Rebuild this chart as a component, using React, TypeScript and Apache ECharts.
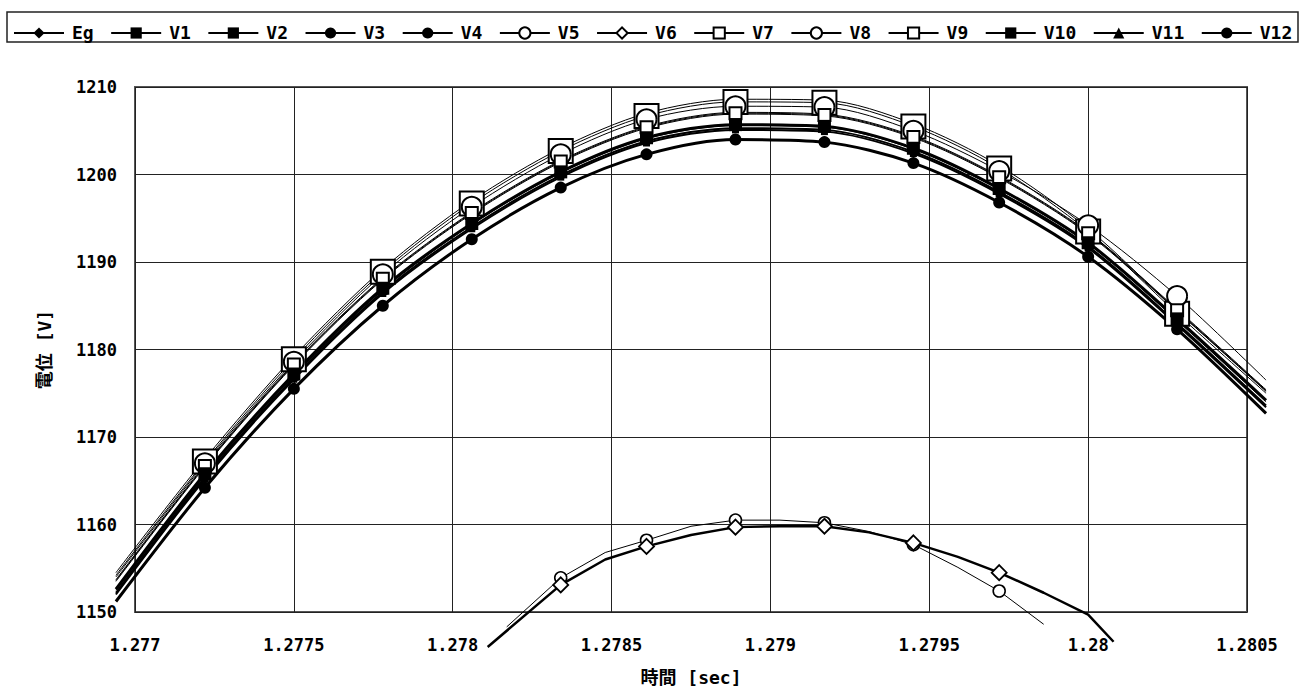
import { useEffect, useRef } from "react";
import * as echarts from "echarts";

// ---- data ----
const X_MIN = 1.277;
const X_MAX = 1.2805;
const X_STEP = 0.0005;
const Y_MIN = 1150;
const Y_MAX = 1210;
const Y_STEP = 10;
// wider hidden range used for the lines, which run a little past the plot edges
const X_MIN_WIDE = 1.2769;
const X_MAX_WIDE = 1.2806;

const X_TITLE = "時間 [sec]";
const Y_TITLE = "電位 [V]";

const LEGEND_NAMES = ["Eg", "V1", "V2", "V3", "V4", "V5", "V6", "V7", "V8", "V9", "V10", "V11", "V12"];

// sample instants where markers are drawn
const T_MARKERS = [1.27722, 1.2775, 1.27778, 1.27806, 1.27834, 1.27861, 1.27889, 1.27917, 1.27945, 1.27972, 1.28, 1.28028];

// upper group: first and last points lie outside the axis range (line only)
const T_UPPER = [1.27694, 1.27722, 1.2775, 1.27778, 1.27806, 1.27834, 1.27861, 1.27889, 1.27917, 1.27945, 1.27972, 1.28, 1.28028, 1.28056];
const EG = [1154.5, 1167.5, 1179.2, 1189.2, 1197.0, 1203.0, 1207.0, 1208.6, 1208.5, 1205.8, 1201.0, 1193.8, 1184.4, 1175.3];
const V1 = [1152.2, 1165.4, 1176.8, 1186.6, 1194.0, 1199.9, 1203.8, 1205.3, 1205.1, 1202.6, 1198.0, 1191.8, 1183.0, 1173.6];
const V2 = [1152.0, 1165.2, 1176.6, 1186.4, 1193.8, 1199.7, 1203.6, 1205.1, 1204.9, 1202.4, 1197.8, 1191.6, 1182.8, 1173.4];
const V3 = [1153.7, 1166.8, 1178.4, 1188.2, 1195.7, 1201.6, 1205.5, 1207.1, 1206.9, 1204.4, 1199.8, 1193.4, 1184.6, 1175.4];
const V4 = [1153.5, 1166.6, 1178.2, 1188.0, 1195.5, 1201.4, 1205.3, 1206.9, 1206.7, 1204.2, 1199.6, 1193.2, 1184.4, 1175.2];
const V7 = [1154.2, 1167.2, 1178.9, 1188.9, 1196.7, 1202.7, 1206.7, 1208.3, 1208.2, 1205.5, 1200.7, 1193.5, 1184.1, 1175.0];
const V8 = [1154.0, 1167.0, 1178.6, 1188.6, 1196.3, 1202.3, 1206.3, 1207.8, 1207.7, 1205.0, 1200.4, 1194.2, 1186.1, 1176.5];
const V9 = [1153.6, 1166.7, 1178.3, 1188.1, 1195.6, 1201.5, 1205.4, 1207.0, 1206.8, 1204.3, 1199.7, 1193.3, 1184.5, 1175.3];
const V10 = [1152.6, 1165.8, 1177.2, 1187.0, 1194.4, 1200.3, 1204.2, 1205.7, 1205.5, 1203.0, 1198.4, 1192.2, 1183.5, 1174.2];
const V11 = [1152.5, 1165.6, 1177.0, 1186.8, 1194.3, 1200.2, 1204.1, 1205.6, 1205.4, 1202.9, 1198.3, 1192.1, 1183.3, 1174.0];
const V12 = [1151.2, 1164.2, 1175.5, 1185.0, 1192.6, 1198.5, 1202.3, 1204.0, 1203.7, 1201.3, 1196.8, 1190.6, 1182.3, 1172.7];

// lower group
const T_V5 = [1.27817, 1.27834, 1.27848, 1.27861, 1.27875, 1.27889, 1.27903, 1.27917, 1.27931, 1.27945, 1.27959, 1.27972, 1.27986];
const V5 = [1148.3, 1153.9, 1156.8, 1158.2, 1159.8, 1160.5, 1160.5, 1160.2, 1159.2, 1157.7, 1155.1, 1152.4, 1148.6];
const T_V6 = [1.27811, 1.27834, 1.27848, 1.27861, 1.27875, 1.27889, 1.27903, 1.27917, 1.27931, 1.27945, 1.27959, 1.27972, 1.27986, 1.28, 1.28008];
const V6 = [1146.0, 1153.1, 1156.0, 1157.5, 1158.8, 1159.7, 1159.8, 1159.8, 1159.1, 1157.9, 1156.3, 1154.5, 1152.2, 1149.7, 1146.6];

const SERIES_DATA: Record<string, [number[], number[]]> = {
  Eg: [T_UPPER, EG],
  V1: [T_UPPER, V1],
  V2: [T_UPPER, V2],
  V3: [T_UPPER, V3],
  V4: [T_UPPER, V4],
  V5: [T_V5, V5],
  V6: [T_V6, V6],
  V7: [T_UPPER, V7],
  V8: [T_UPPER, V8],
  V9: [T_UPPER, V9],
  V10: [T_UPPER, V10],
  V11: [T_UPPER, V11],
  V12: [T_UPPER, V12],
};

// ---- styles ----
type Sty = { lw: number; symbol: string; size: number; fill: string; bw: number; smooth: number | boolean };
const STYLES: Record<string, Sty> = {
  Eg: { lw: 1, symbol: "diamond", size: 7, fill: "#000", bw: 0, smooth: 0.3 },
  V1: { lw: 2, symbol: "rect", size: 7, fill: "#000", bw: 0, smooth: 0.3 },
  V2: { lw: 2, symbol: "rect", size: 7, fill: "#000", bw: 0, smooth: 0.3 },
  V3: { lw: 1, symbol: "circle", size: 5, fill: "#000", bw: 0, smooth: 0.3 },
  V4: { lw: 1, symbol: "circle", size: 5, fill: "#000", bw: 0, smooth: 0.3 },
  V5: { lw: 1, symbol: "circle", size: 12, fill: "#fff", bw: 1.6, smooth: false },
  V6: { lw: 2.5, symbol: "diamond", size: 15, fill: "#fff", bw: 1.8, smooth: false },
  V7: { lw: 1, symbol: "rect", size: 24, fill: "#fff", bw: 2, smooth: 0.3 },
  V8: { lw: 1, symbol: "circle", size: 20, fill: "#fff", bw: 2, smooth: 0.3 },
  V9: { lw: 1, symbol: "rect", size: 12, fill: "#fff", bw: 2, smooth: 0.3 },
  V10: { lw: 3, symbol: "rect", size: 13, fill: "#000", bw: 0, smooth: 0.3 },
  V11: { lw: 1, symbol: "triangle", size: 10, fill: "#000", bw: 0, smooth: 0.3 },
  V12: { lw: 3, symbol: "circle", size: 12, fill: "#000", bw: 0, smooth: 0.3 },
};

const MONO = "'DejaVu Sans Mono', 'Noto Sans CJK JP', monospace";

// plot frame
const G_LEFT = 135;
const G_RIGHT = 53;
const G_TOP = 87;
const G_BOTTOM = 81;
const PX_PER_UNIT = (1300 - G_LEFT - G_RIGHT) / (X_MAX - X_MIN);

const isMarker = (t: number) => T_MARKERS.some((m) => Math.abs(m - t) < 1e-7);

export default function App() {
  const ref = useRef<HTMLDivElement>(null);

  useEffect(() => {
    if (!ref.current) return;
    const chart = echarts.init(ref.current, null, { renderer: "svg" });

    const lineSeries: any[] = [];
    const markerSeries: any[] = [];
    LEGEND_NAMES.forEach((name) => {
      const [ts, vs] = SERIES_DATA[name];
      const s = STYLES[name];
      const pts = ts.map((t, i) => [t, vs[i]]);
      lineSeries.push({
        type: "line",
        name,
        xAxisIndex: 1,
        yAxisIndex: 1,
        data: pts,
        smooth: s.smooth,
        clip: false,
        showSymbol: false,
        symbol: s.symbol,
        symbolSize: s.size,
        silent: true,
        z: 2,
        lineStyle: { color: "#000", width: s.lw },
        itemStyle: { color: s.fill, borderColor: "#000", borderWidth: s.bw },
      });
      markerSeries.push({
        type: "scatter",
        name,
        xAxisIndex: 0,
        yAxisIndex: 0,
        data: pts.filter((p) => isMarker(p[0])),
        symbol: s.symbol,
        symbolSize: s.size,
        silent: true,
        z: 3,
        itemStyle: { color: s.fill, borderColor: "#000", borderWidth: s.bw, opacity: 1 },
      });
    });

    const wideLeft = G_LEFT - (X_MIN - X_MIN_WIDE) * PX_PER_UNIT;
    const wideRight = G_RIGHT - (X_MAX_WIDE - X_MAX) * PX_PER_UNIT;

    chart.setOption({
      animation: false,
      backgroundColor: "#fff",
      grid: [
        { left: G_LEFT, right: G_RIGHT, top: G_TOP, bottom: G_BOTTOM, show: true, borderColor: "#555", borderWidth: 2, backgroundColor: "#fff" },
        { left: wideLeft, right: wideRight, top: G_TOP, bottom: G_BOTTOM, show: false },
      ],
      legend: {
        data: LEGEND_NAMES,
        left: 13,
        top: 24,
        width: 1300,
        padding: 0,
        itemWidth: 50,
        itemHeight: 14,
        itemGap: 16.5,
        selectedMode: false,
        textStyle: { fontFamily: MONO, fontSize: 18, fontWeight: "bold", color: "#000", padding: [0, 0, 0, 3] },
      },
      graphic: [
        {
          type: "rect",
          silent: true,
          z: -1,
          shape: { x: 7, y: 12, width: 1291, height: 30 },
          style: { fill: "none", stroke: "#222", lineWidth: 1.5 },
        },
      ],
      xAxis: [
        {
          type: "value",
          gridIndex: 0,
          min: X_MIN,
          max: X_MAX,
          interval: X_STEP,
          axisLine: { show: false },
          axisTick: { show: false },
          splitLine: { show: true, lineStyle: { color: "#222", width: 1 } },
          axisLabel: {
            margin: 24,
            color: "#000",
            fontFamily: MONO,
            fontSize: 17,
            fontWeight: "bold",
            formatter: (v: number) => String(Math.round(v * 10000) / 10000),
          },
          name: X_TITLE,
          nameLocation: "middle",
          nameGap: 56,
          nameTextStyle: { color: "#000", fontFamily: MONO, fontSize: 18, fontWeight: "bold" },
        },
        { type: "value", gridIndex: 1, min: X_MIN_WIDE, max: X_MAX_WIDE, show: false },
      ],
      yAxis: [
        {
          type: "value",
          gridIndex: 0,
          min: Y_MIN,
          max: Y_MAX,
          interval: Y_STEP,
          axisLine: { show: false },
          axisTick: { show: false },
          splitLine: { show: true, lineStyle: { color: "#222", width: 1 } },
          axisLabel: {
            margin: 18,
            color: "#000",
            fontFamily: MONO,
            fontSize: 17,
            fontWeight: "bold",
            formatter: (v: number) => String(v),
          },
          name: Y_TITLE,
          nameLocation: "middle",
          nameGap: 82,
          nameTextStyle: { color: "#000", fontFamily: MONO, fontSize: 18, fontWeight: "bold" },
        },
        { type: "value", gridIndex: 1, min: Y_MIN, max: Y_MAX, show: false },
      ],
      series: [...lineSeries, ...markerSeries],
    });

    return () => chart.dispose();
  }, []);

  return (
    <div
      ref={ref}
      style={{ position: "fixed", left: 0, top: 0, width: 1300, height: 693, background: "#fff" }}
    />
  );
}
